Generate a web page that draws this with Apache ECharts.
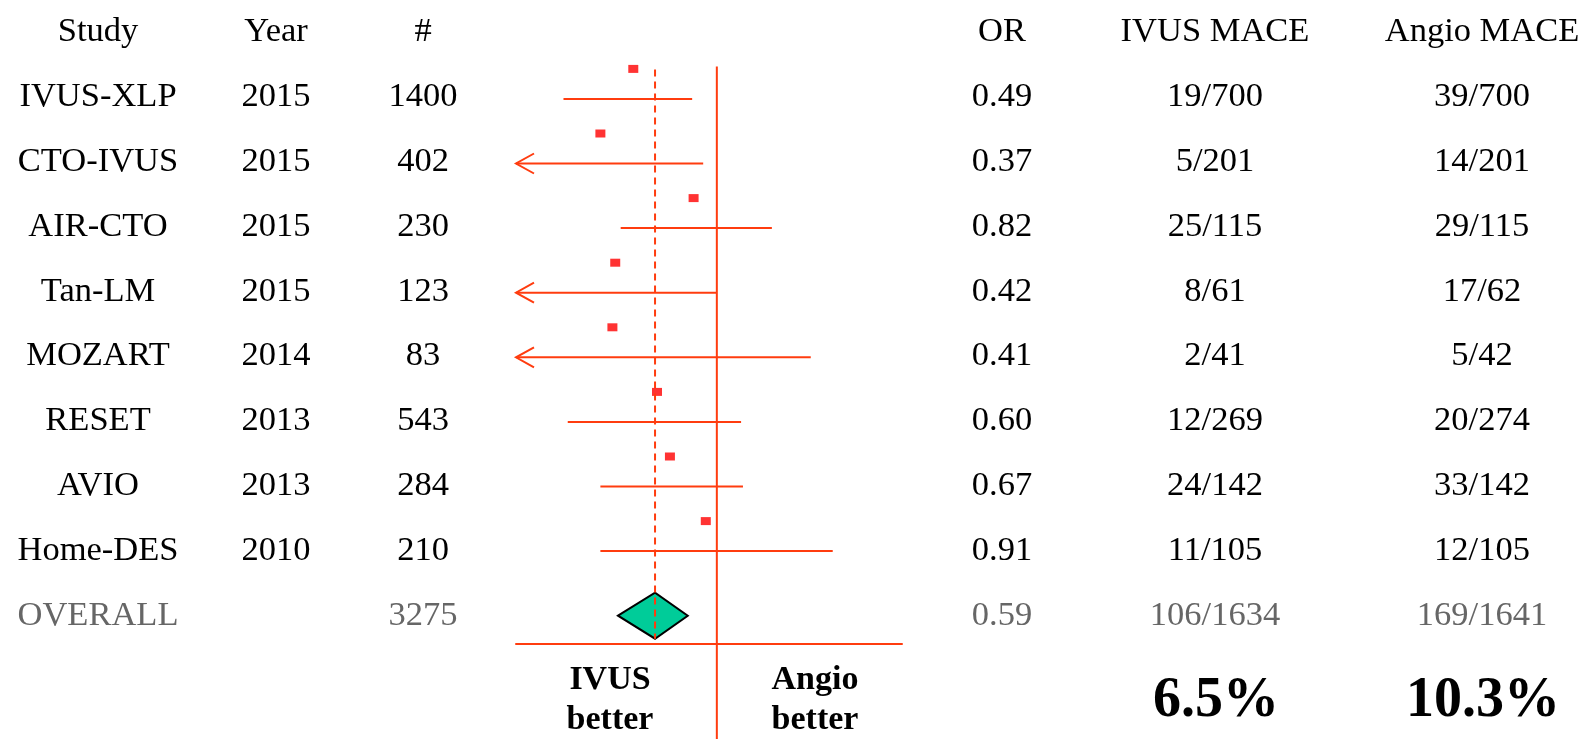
<!DOCTYPE html>
<html>
<head>
<meta charset="utf-8">
<title>IVUS vs Angio - MACE forest plot</title>
<script src="https://cdn.jsdelivr.net/npm/echarts@6/dist/echarts.min.js"></script>
<style>
  html, body { margin: 0; padding: 0; background: #fff; }
  #main { width: 1587px; height: 739px; }
</style>
</head>
<body>
<div id="main"></div>
<script>
// table data
var headers = ['Study', 'Year', '#', 'OR', 'IVUS MACE', 'Angio MACE'];
var studies = ['IVUS-XLP', 'CTO-IVUS', 'AIR-CTO', 'Tan-LM', 'MOZART', 'RESET', 'AVIO', 'Home-DES'];
var years = [2015, 2015, 2015, 2015, 2014, 2013, 2013, 2010];
var patients = [1400, 402, 230, 123, 83, 543, 284, 210];
var oddsRatio = [0.49, 0.37, 0.82, 0.42, 0.41, 0.60, 0.67, 0.91];
// null = interval runs past the left edge, drawn as an arrow
var ciLow = [0.27, null, 0.44, null, null, 0.28, 0.37, 0.37];
var ciHigh = [0.81, 0.89, 1.60, 1.00, 2.23, 1.23, 1.25, 2.69];
var ivusMace = ['19/700', '5/201', '25/115', '8/61', '2/41', '12/269', '24/142', '11/105'];
var angioMace = ['39/700', '14/201', '29/115', '17/62', '5/42', '20/274', '33/142', '12/105'];

var overallLabel = 'OVERALL';
var overallN = 3275;
var overallOR = 0.59;
var overallLow = 0.43;
var overallHigh = 0.78;
var overallIvus = '106/1634';
var overallAngio = '169/1641';

var ivusRate = '6.5%';
var angioRate = '10.3%';

var xMin = 0.18, xMax = 4.86;

var lineColor = '#ff3c0f';
var font = 'Liberation Serif';

// rows: 0 = header, 1..8 = studies, 9 = overall
var rowKeys = ['header'].concat(studies, [overallLabel]);
var lastRow = rowKeys.length - 1;

function columnText(col) {
  var body = [studies, years, patients, oddsRatio.map(function (v) { return v.toFixed(2); }), ivusMace, angioMace][col];
  var total = [overallLabel, '', overallN, overallOR.toFixed(2), overallIvus, overallAngio][col];
  return [headers[col]].concat(body, [total]);
}

// the table text sits on its own grid (rows slightly off the plot rows, as in the slide)
function textAxis(col, position, offset) {
  var texts = columnText(col);
  return {
    type: 'category', data: rowKeys, inverse: true, gridIndex: 1,
    position: position, offset: offset,
    axisLine: { show: false }, axisTick: { show: false }, splitLine: { show: false },
    axisLabel: {
      interval: 0, margin: 0, align: 'center',
      fontFamily: font, fontSize: 34.5,
      formatter: function (v, i) { return String(texts[i]); },
      color: function (v, i) { return i === lastRow ? '#666666' : '#000000'; }
    }
  };
}

var myChart = echarts.init(document.getElementById('main'));

var ciData = oddsRatio.map(function (v, i) {
  return [i + 1, ciLow[i] == null ? xMin : ciLow[i], ciHigh[i], ciLow[i] == null ? 1 : 0];
});
var pointData = oddsRatio.map(function (v, i) { return [v, i + 1]; });

function renderCI(params, api) {
  var row = api.value(0);
  var lo = api.coord([api.value(1), row]);
  var hi = api.coord([api.value(2), row]);
  var style = { stroke: lineColor, lineWidth: 2, fill: 'none' };
  var children = [{ type: 'line', shape: { x1: lo[0], y1: lo[1], x2: hi[0], y2: hi[1] }, style: style }];
  if (api.value(3)) {
    children.push({
      type: 'polyline',
      shape: { points: [[lo[0] + 18, lo[1] - 10], [lo[0], lo[1]], [lo[0] + 18, lo[1] + 10]] },
      style: style
    });
  }
  return { type: 'group', children: children };
}

function renderDiamond(params, api) {
  var row = api.value(3);
  var c = api.coord([api.value(0), row]);
  var lo = api.coord([api.value(1), row]);
  var hi = api.coord([api.value(2), row]);
  return {
    type: 'polygon',
    shape: { points: [[lo[0], c[1]], [c[0], c[1] - 23], [hi[0], c[1]], [c[0], c[1] + 23]] },
    style: { fill: '#00cc99', stroke: '#000', lineWidth: 2 }
  };
}

// kind 0 = line of no effect, kind 1 = pooled estimate (dashed)
function renderRef(params, api) {
  var kind = api.value(1);
  var x = api.coord([api.value(0), 1])[0];
  var yTop = (api.coord([1, 0])[1] + api.coord([1, 1])[1]) / 2;
  var yBottom = kind === 0 ? api.getHeight() : api.coord([1, lastRow])[1] + 23;
  return {
    type: 'line',
    shape: { x1: x, y1: yTop + (kind === 0 ? 0 : 3), x2: x, y2: yBottom },
    style: { stroke: lineColor, lineWidth: 2, lineDash: kind === 0 ? null : [7, 5] }
  };
}

var textStyleBold = { fontFamily: font, fontWeight: 'bold', align: 'center', verticalAlign: 'middle', fill: '#000' };

var option = {
  animation: false,
  backgroundColor: '#ffffff',
  grid: [
    { left: 516, width: 386, top: 2, height: 646, containLabel: false },
    { left: 516, width: 386, top: -3, height: 651, containLabel: false }
  ],
  xAxis: [
    {
      type: 'log', min: xMin, max: xMax, offset: -4, gridIndex: 0,
      axisLine: { show: true, lineStyle: { color: lineColor, width: 2 } },
      axisTick: { show: false }, axisLabel: { show: false }, splitLine: { show: false }
    },
    { type: 'value', gridIndex: 1, show: false }
  ],
  yAxis: [
    { type: 'category', data: rowKeys, inverse: true, show: false, gridIndex: 0 },
    textAxis(0, 'left', 418),
    textAxis(1, 'left', 240),
    textAxis(2, 'left', 93),
    textAxis(3, 'right', 100),
    textAxis(4, 'right', 313),
    textAxis(5, 'right', 580)
  ],
  series: [
    { type: 'custom', name: 'CI', renderItem: renderCI, data: ciData, clip: false, z: 2,
      encode: { x: [1, 2], y: 0 } },
    { type: 'scatter', name: 'OR', data: pointData, symbol: 'rect', symbolSize: [10, 8],
      symbolOffset: [0, -30], itemStyle: { color: '#ff0000' }, z: 3 },
    { type: 'custom', name: 'ref', renderItem: renderRef, data: [[1, 0]], clip: false, z: 2,
      encode: { x: 0 } },
    { type: 'custom', name: 'overall', renderItem: renderDiamond,
      data: [[overallOR, overallLow, overallHigh, lastRow]], clip: false, z: 4,
      encode: { x: [0, 1, 2], y: 3 } },
    { type: 'custom', name: 'pooled', renderItem: renderRef, data: [[overallOR, 1]], clip: false, z: 5,
      encode: { x: 0 } }
  ],
  graphic: [
    { type: 'text', x: 610, y: 700, style: Object.assign({ text: 'IVUS\nbetter', fontSize: 34, lineHeight: 40 }, textStyleBold) },
    { type: 'text', x: 815, y: 700, style: Object.assign({ text: 'Angio\nbetter', fontSize: 34, lineHeight: 40 }, textStyleBold) },
    { type: 'text', x: 1216, y: 702, style: Object.assign({ text: ivusRate, fontSize: 56 }, textStyleBold) },
    { type: 'text', x: 1483, y: 702, style: Object.assign({ text: angioRate, fontSize: 56 }, textStyleBold) }
  ]
};

myChart.setOption(option);
</script>
</body>
</html>
